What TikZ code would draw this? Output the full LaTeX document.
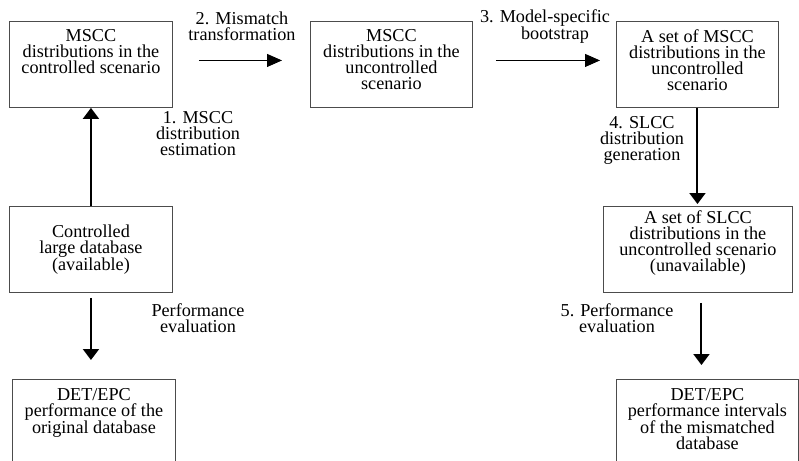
\documentclass[tikz,border=0pt]{standalone}
\usepackage{fontspec}
\setmainfont{Liberation Serif}
\usetikzlibrary{arrows.meta}

\begin{document}
\begin{tikzpicture}[x=1pt, y=-1pt,
  every node/.style={font=\fontsize{18.2}{16}\selectfont, inner sep=0pt},
  box/.style={draw=black!70, line width=0.9pt, anchor=north west},
  boxtext/.style={anchor=north, align=center, yshift=-8pt},
  flow/.style={line width=1pt, -{Triangle[length=15pt, width=13pt]}},
  bigflow/.style={line width=2pt, -{Triangle[length=11pt, width=16pt]}}]

\useasboundingbox (0,0) rectangle (799,460);
\clip (0,0) rectangle (799,460);

% boxes
\node [box, minimum width=163pt, minimum height=86pt] (mscc-c) at (9,21) {};
\node [box, minimum width=162pt, minimum height=86pt] (mscc-u) at (310,21) {};
\node [box, minimum width=162pt, minimum height=86pt] (mscc-set) at (616,21) {};
\node [box, minimum width=163pt, minimum height=86pt, align=center] (db) at (9,206)
  {Controlled\\large database\\(available)};
\node [box, minimum width=189pt, minimum height=86pt] (slcc-set) at (603,206) {};
\node [box, minimum width=163pt, minimum height=100pt] (det-o) at (12,379) {};
\node [box, minimum width=182pt, minimum height=100pt] (det-m) at (616,379) {};

% texts in the boxes
\node [boxtext] at (mscc-c.north) {MSCC\\distributions in the\\controlled scenario};
\node [boxtext] at (mscc-u.north) {MSCC\\distributions in the\\uncontrolled\\scenario};
\node [boxtext] at (mscc-set.north) {A set of MSCC\\distributions in the\\uncontrolled\\scenario};
\node [boxtext, yshift=4pt] at (slcc-set.north) {A set of SLCC\\distributions in the\\uncontrolled scenario\\(unavailable)};
\node [boxtext, yshift=-1pt] at (det-o.north) {DET/EPC\\performance of the\\original database};
\node [boxtext, yshift=-1pt] at (det-m.north) {DET/EPC\\performance intervals\\of the mismatched\\database};

% steps
\node [align=center] (step-1) at (198,134) {1. MSCC\\distribution\\estimation};
\node [align=center] (step-2) at (242,26.5) {2. Mismatch\\transformation};
\node [align=center] (step-3) at (545,26.5) {3. Model-specific\\\hspace*{20pt}bootstrap};
\node [align=center] (step-4) at (642,140) {4. SLCC\\distribution\\generation};
\node [align=center] (step-p) at (198,318) {Performance\\evaluation};
\node [align=center] (step-5) at (617,318) {5. Performance\\evaluation};

% arrows
\draw [flow] ([xshift=26pt, yshift=4pt]mscc-c.east) -- ([xshift=-28pt, yshift=4pt]mscc-u.west);
\draw [flow] ([xshift=23pt, yshift=4pt]mscc-u.east) -- ([xshift=-16pt, yshift=4pt]mscc-set.west);
\draw [bigflow] (db.north) -- (mscc-c.south);
\draw [bigflow, shorten <=5pt, shorten >=19pt] (db.south) -- (db.south |- det-o.north);
\draw [bigflow, shorten >=2pt] (mscc-set.south) -- (mscc-set.south |- slcc-set.north);
\draw [bigflow, shorten <=10pt, shorten >=14pt] ([xshift=3.5pt]slcc-set.south) -- ([xshift=3.5pt]slcc-set.south |- det-m.north);

\end{tikzpicture}
\end{document}
